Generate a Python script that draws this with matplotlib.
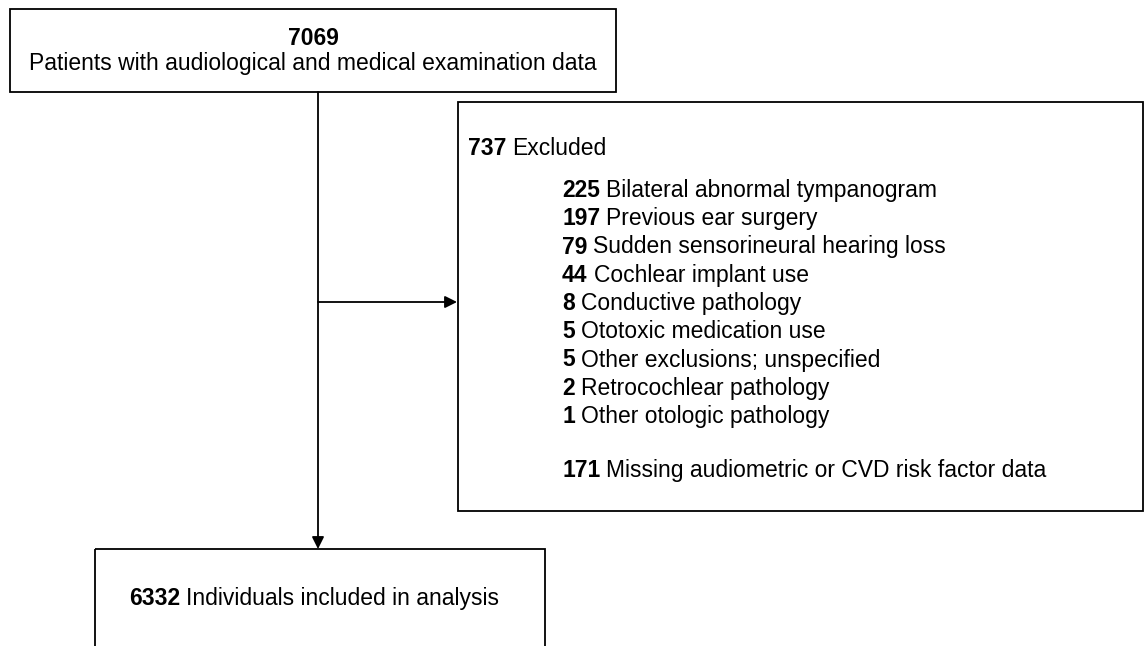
import matplotlib
matplotlib.use('Agg')
import matplotlib.pyplot as plt
from matplotlib.patches import Rectangle

plt.rcParams['font.family'] = ['Liberation Sans', 'DejaVu Sans']

# flowchart content
total_n = '7069'
total_label = 'Patients with audiological and medical examination data'
excluded_n = '737'
excluded_label = 'Excluded'
reason_n = ['225', '197', '79', '44', '8', '5', '5', '2', '1']
reason_label = ['Bilateral abnormal tympanogram', 'Previous ear surgery',
                'Sudden sensorineural hearing loss', 'Cochlear implant use',
                'Conductive pathology', 'Ototoxic medication use',
                'Other exclusions; unspecified', 'Retrocochlear pathology',
                'Other otologic pathology']
missing_n = '171'
missing_label = 'Missing audiometric or CVD risk factor data'
included_n = '6332'
included_label = 'Individuals included in analysis'

W, H = 1146, 646
fig = plt.figure(figsize=(W / 100, H / 100), dpi=100)
ax = fig.add_axes([0, 0, 1, 1])
ax.set_xlim(0, W)
ax.set_ylim(H, 0)
ax.axis('off')

FS = 16.5
LW = 1.3
renderer = fig.canvas.get_renderer()


def box(x0, y0, x1, y1):
    ax.add_patch(Rectangle((x0, y0), x1 - x0, y1 - y0, fill=False,
                           edgecolor='black', linewidth=LW, clip_on=True))


def bold_then_plain(x, y, num, label, fs=FS):
    # y is the baseline; number in bold, then the label right after it
    t = ax.text(x, y, num, fontsize=fs, fontweight='bold', va='baseline', ha='left')
    bb = t.get_window_extent(renderer=renderer)
    xr = ax.transData.inverted().transform((bb.x1, 0))[0]
    ax.text(xr + 6, y, label, fontsize=fs, va='baseline', ha='left')


# boxes
box(10, 9, 616, 92)
box(458, 102, 1143, 511)
box(95, 549, 545, 700)

# top box text
ax.text(313, 45, total_n, fontsize=FS, fontweight='bold', ha='center', va='baseline')
ax.text(313, 70, total_label, fontsize=FS, ha='center', va='baseline')

# arrows
ax.annotate('', xy=(318, 549), xytext=(318, 92),
            arrowprops=dict(arrowstyle='-|>', color='black', lw=LW,
                            mutation_scale=18, shrinkA=0, shrinkB=0))
ax.annotate('', xy=(457, 302), xytext=(318, 302),
            arrowprops=dict(arrowstyle='-|>', color='black', lw=LW,
                            mutation_scale=18, shrinkA=0, shrinkB=0))

# exclusion box
bold_then_plain(468, 155, excluded_n, excluded_label)
y = 197
for n, lab in zip(reason_n, reason_label):
    bold_then_plain(562, y, n, lab)
    y += 28.25
bold_then_plain(562, 477, missing_n, missing_label)

# bottom box
bold_then_plain(129, 605, included_n, included_label)

fig.savefig('out.png', dpi=100)
